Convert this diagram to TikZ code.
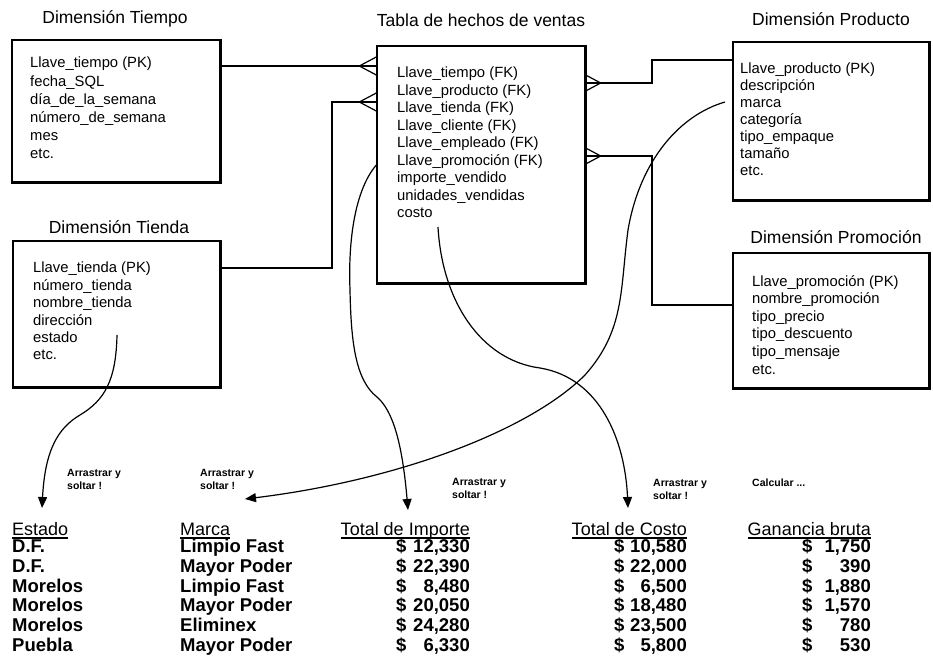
\documentclass[tikz,border=0pt]{standalone}
\usepackage{fontspec}
\setmainfont{Liberation Sans}
\usetikzlibrary{arrows.meta,calc}
\tikzset{
  dimbox/.style={draw, line width=1.4pt, inner sep=0pt, rectangle},
  shadowline/.style={line width=3pt},
  ttl/.style={inner sep=0pt, font=\fontsize{17.5}{20}\selectfont},
  fieldtxt/.style={align=left, inner sep=0pt, anchor=north west, font=\fontsize{14.8}{#1}\selectfont},
  conn/.style={line width=1.3pt},
  flow/.style={line width=1.2pt, -{Triangle[length=11pt,width=9pt]}},
  dragtxt/.style={align=left, inner sep=0pt, anchor=north west, font=\fontsize{10.5}{13.5}\selectfont\bfseries},
  cellb/.style={inner sep=0pt, font=\fontsize{18.5}{20}\selectfont\bfseries},
  cellh/.style={inner sep=0pt, font=\fontsize{18}{20}\selectfont},
  crowL/.pic={\draw[line width=1.2pt] (-17,0) -- (0,-9) (-17,0) -- (0,9);},
  crowR/.pic={\draw[line width=1.2pt] (15,0) -- (0,-8) (15,0) -- (0,8);}
}
\begin{document}
\begin{tikzpicture}[x=1pt,y=-1pt]
\useasboundingbox (0,0) rectangle (933,666);

% ---------- titles ----------
\node[ttl, anchor=base] (tTiempo) at (115,24) {Dimensión Tiempo};
\node[ttl, anchor=base] (tHechos) at (481,27) {Tabla de hechos de ventas};
\node[ttl, anchor=base] (tProducto) at (831,26) {Dimensión Producto};
\node[ttl, anchor=base] (tTienda) at (119,233) {Dimensión Tienda};
\node[ttl, anchor=base] (tPromo) at (836,243) {Dimensión Promoción};

% ---------- boxes ----------
\node[dimbox, minimum width=208pt, minimum height=142pt] (tiempo) at (116,111) {};
\node[dimbox, minimum width=208pt, minimum height=237pt] (hechos) at (481,164.5) {};
\node[dimbox, minimum width=196pt, minimum height=158pt] (producto) at (831,121) {};
\node[dimbox, minimum width=207pt, minimum height=146pt] (tienda) at (116.5,314) {};
\node[dimbox, minimum width=196pt, minimum height=135pt] (promocion) at (831,320.5) {};
\foreach \b in {tiempo,hechos,producto,tienda,promocion}{
  \draw[shadowline] (\b.north east) -- (\b.south east) -- (\b.south west);
}

% ---------- field lists ----------
\node[fieldtxt=18.2] (fTiempo) at (30,57) {Llave\_tiempo (PK)\\fecha\_SQL\\día\_de\_la\_semana\\número\_de\_semana\\mes\\etc.};
\node[fieldtxt=17.5] (fHechos) at (397,67) {Llave\_tiempo (FK)\\Llave\_producto (FK)\\Llave\_tienda (FK)\\Llave\_cliente (FK)\\Llave\_empleado (FK)\\Llave\_promoción (FK)\\importe\_vendido\\unidades\_vendidas\\costo};
\node[fieldtxt=17] (fProducto) at (740,63) {Llave\_producto (PK)\\descripción\\marca\\categoría\\tipo\_empaque\\tamaño\\etc.};
\node[fieldtxt=17.4] (fTienda) at (33,262) {Llave\_tienda (PK)\\número\_tienda\\nombre\_tienda\\dirección\\estado\\etc.};
\node[fieldtxt=17.6] (fPromo) at (752,275) {Llave\_promoción (PK)\\nombre\_promoción\\tipo\_precio\\tipo\_descuento\\tipo\_mensaje\\etc.};

% ---------- relationship connectors ----------
\draw[conn] (tiempo.east |- 0,66) -- (hechos.west |- 0,66);
\pic at (hechos.west |- 0,66) {crowL};
\draw[conn] (tienda.east |- 0,268) -- (332,268) -- (332,102) -- (hechos.west |- 0,102);
\pic at (hechos.west |- 0,102) {crowL};
\draw[conn] (hechos.east |- 0,83) -- (652,83) -- (652,60) -- (producto.west |- 0,60);
\pic at (hechos.east |- 0,83) {crowR};
\draw[conn] (hechos.east |- 0,156) -- (652,156) -- (652,305) -- (promocion.west |- 0,305);
\pic at (hechos.east |- 0,156) {crowR};

% ---------- drag arrows ----------
\coordinate (pEstado) at (117,335);
\coordinate (aEstado) at (42,508);
\coordinate (pImporte) at (hechos.west |- 0,165);
\coordinate (aImporte) at (408,510);
\coordinate (pCosto) at (438,227);
\coordinate (aCosto) at (628,508);
\coordinate (pMarca) at (725,102);
\coordinate (aMarca) at (245,499);

\draw[flow] (pEstado) .. controls (116,380) and (105,400) .. (80,415)
            .. controls (58,428) and (45,450) .. (aEstado);
\draw[flow] (pImporte) .. controls (355,190) and (348,240) .. (350,290)
            .. controls (351,340) and (355,380) .. (377,397)
            .. controls (392,410) and (402,440) .. (aImporte);
\draw[flow] (pCosto) .. controls (442,300) and (480,360) .. (540,368)
            .. controls (600,378) and (625,440) .. (aCosto);
\draw[flow] (pMarca) .. controls (680,115) and (640,160) .. (628,230)
            .. controls (620,290) and (625,330) .. (585,375)
            .. controls (530,430) and (400,480) .. (aMarca);

% ---------- drag labels ----------
\node[dragtxt] (dEstado) at (67,469) {Arrastrar y\\soltar !};
\node[dragtxt] (dMarca) at (200,469) {Arrastrar y\\soltar !};
\node[dragtxt] (dImporte) at (452,478) {Arrastrar y\\soltar !};
\node[dragtxt] (dCosto) at (653,479) {Arrastrar y\\soltar !};
\node[dragtxt] (dCalc) at (752,479) {Calcular ...};

% ---------- table headers ----------
\node[cellh, anchor=base west] (hEst) at (12,535) {Estado};
\node[cellh, anchor=base west] (hMar) at (180,535) {Marca};
\node[cellh, anchor=base east] (hImp) at (470,535) {Total de Importe};
\node[cellh, anchor=base east] (hCos) at (687,535) {Total de Costo};
\node[cellh, anchor=base east] (hGan) at (871,535) {Ganancia bruta};
\foreach \h in {hEst,hMar,hImp,hCos,hGan}{
  \draw[line width=1.2pt] ($(\h.base west)+(0,3)$) -- ($(\h.base east)+(0,3)$);
}

% ---------- table rows ----------
\foreach \i/\e/\m/\a/\c/\g [evaluate=\i as \yy using 552.5+(\i-1)*19.8] in {
  1/D.F./Limpio Fast/12{,}330/10{,}580/1{,}750,
  2/D.F./Mayor Poder/22{,}390/22{,}000/390,
  3/Morelos/Limpio Fast/8{,}480/6{,}500/1{,}880,
  4/Morelos/Mayor Poder/20{,}050/18{,}480/1{,}570,
  5/Morelos/Eliminex/24{,}280/23{,}500/780,
  6/Puebla/Mayor Poder/6{,}330/5{,}800/530}{
  \node[cellb, anchor=base west] (est\i) at (12,\yy) {\e};
  \node[cellb, anchor=base west] (mar\i) at (180,\yy) {\m};
  \node[cellb, anchor=base west] (impd\i) at (396,\yy) {\$};
  \node[cellb, anchor=base east] (impv\i) at (470,\yy) {\a};
  \node[cellb, anchor=base west] (cosd\i) at (614,\yy) {\$};
  \node[cellb, anchor=base east] (cosv\i) at (687,\yy) {\c};
  \node[cellb, anchor=base west] (gand\i) at (802,\yy) {\$};
  \node[cellb, anchor=base east] (ganv\i) at (871,\yy) {\g};
}
\end{tikzpicture}
\end{document}
